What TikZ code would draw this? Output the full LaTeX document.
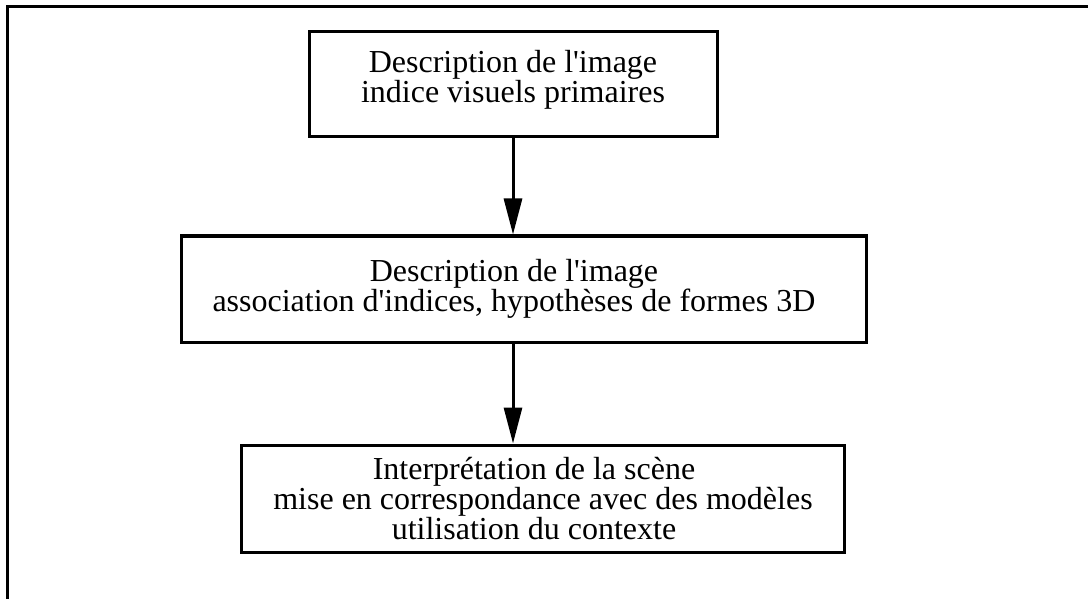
\documentclass[tikz,border=0pt]{standalone}
\usepackage{fontspec}
\setmainfont{Liberation Serif}
\usetikzlibrary{arrows.meta,positioning}
\newcommand{\squote}{\textquotesingle}
\tikzset{%
	block/.style    = {draw, rectangle, line width=3pt, align=center, inner sep=0pt, font=\fontsize{32}{30}\selectfont}, % Box
	frameline/.style = {line width=3pt}, % Frame
}

\begin{document}
\begin{tikzpicture}[x=1pt, y=-1pt, >={Triangle[length=36pt,width=18pt]}, node distance=96pt]
		\useasboundingbox (0,0) rectangle (1088,599);
		\coordinate (ftop) at (1088,7);
		\coordinate (fcorner) at (7,7);
		\coordinate (fbottom) at (7,599);
		\draw[frameline] (ftop) -- (fcorner) -- (fbottom);
		\node[block, minimum width=408pt, minimum height=105pt] (desc) at (513,84.5) {Description de l\squote image\\indice visuels primaires\rule[-17pt]{0pt}{17pt}};
		\node[block, minimum width=685pt, minimum height=106pt, below=of desc, xshift=11pt] (assoc) {Description de l\squote image\hspace*{20pt}\\association d\squote indices, hypothèses de formes 3D\hspace*{20pt}};
		\node[block, minimum width=603pt, minimum height=107pt, below=100pt of assoc, xshift=19pt] (interp) {Interprétation de la scène\hspace*{18pt}\\mise en correspondance avec des modèles\hspace*{18pt}\\utilisation du contexte\hspace*{18pt}};
		\draw[->, line width=3pt] (desc) -- (desc.south |- assoc.north);
		\draw[->, line width=3pt] (desc.south |- assoc.south) -- (desc.south |- interp.north);
		
		\end{tikzpicture}
\end{document}
